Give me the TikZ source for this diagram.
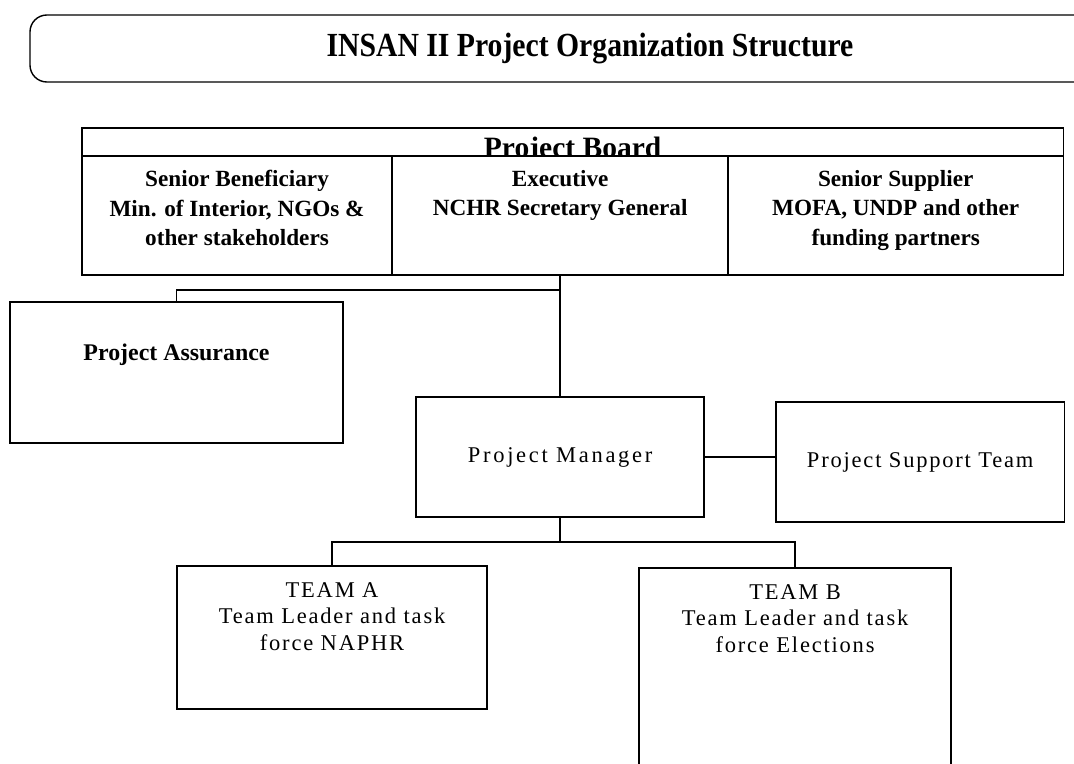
\documentclass[tikz,border=0pt]{standalone}
\usepackage{fontspec}
\setmainfont{Liberation Serif}
\newfontfamily\wideserif[LetterSpace=8]{Liberation Serif}
\usetikzlibrary{positioning,calc}

\begin{document}
\begin{tikzpicture}[
  x=0.025cm, y=-0.025cm,
  box/.style={draw, line width=1pt, inner sep=0pt, outer sep=0pt},
  cell/.style={box, minimum height=2.975cm},
  celltxt/.style={align=center, inner sep=0pt, font=\fontsize{16.5}{21}\selectfont\bfseries},
  lowtxt/.style={align=center, inner sep=0pt, font=\wideserif\fontsize{16}{19}\selectfont},
  link/.style={line width=1pt}
]
  \useasboundingbox (0,0) rectangle (1074,764);
  \clip (0,0) rectangle (1074,764);

  % title banner, open to the right
  \draw[link, rounded corners=12pt] (1090,15) -| (30,82) -- (1090,82);
  \node[inner sep=0pt, font=\fontsize{24}{28}\selectfont\bfseries] (title) at (590,49)
    {\scalebox{0.88}[1]{INSAN II Project Organization Structure}};

  % project board
  \node[cell, minimum width=7.75cm, anchor=north west] (sb) at (82,156) {};
  \node[cell, minimum width=8.4cm, right=0pt of sb] (ex) {};
  \node[cell, minimum width=8.375cm, right=0pt of ex] (ss) {};
  \node[box, minimum width=24.525cm, minimum height=0.7cm, anchor=south west] (board) at (sb.north west) {};
  \begin{scope}
    \clip (board.south west) rectangle (board.north east);
    \node[inner sep=0pt, anchor=base, font=\fontsize{21}{24}\selectfont\bfseries] (boardtxt) at ($(board.south)+(0,1)$) {Project Board};
  \end{scope}
  \node[celltxt, below=0.35cm of sb.north] (sbtxt) {Senior Beneficiary\\Min. of Interior, NGOs \&\\other stakeholders};
  \node[celltxt, below=0.35cm of ex.north] (extxt) {Executive\\NCHR Secretary General};
  \node[celltxt, below=0.35cm of ss.north] (sstxt) {Senior Supplier\\MOFA, UNDP and other\\funding partners};

  % assurance, manager, support
  \node[box, minimum width=8.325cm, minimum height=3.525cm, anchor=north west] (pa) at (10,302) {};
  \node[inner sep=0pt, below=1.05cm of pa.north, font=\fontsize{17}{20}\selectfont\bfseries] (patxt) {Project Assurance};
  \node[box, lowtxt, minimum width=7.2cm, minimum height=3cm, below=3.05cm of ex] (pm) {\addfontfeatures{LetterSpace=12}Project Manager};
  \node[box, lowtxt, minimum width=7.2cm, minimum height=3cm, right=1.8cm of pm, yshift=-0.125cm] (pst) {Project Support Team};

  % teams
  \node[box, minimum width=7.75cm, minimum height=3.575cm, anchor=north west] (teama) at (177,566) {};
  \node[lowtxt, below=0.4cm of teama.north] (teamatxt) {TEAM A\\Team Leader and task\\force NAPHR};
  \node[box, minimum width=7.8cm, minimum height=6cm, anchor=north west] (teamb) at (639,568) {};
  \node[lowtxt, below=0.4cm of teamb.north] (teambtxt) {TEAM B\\Team Leader and task\\force Elections};

  % connectors
  \coordinate (pajoin) at ($(ex.south)+(0,15)$);
  \coordinate (teamjoin) at ($(pm.south)+(0,25)$);
  \draw[link] (ex.south) -- (pm.north);
  \draw[link] (pajoin) -| (pa.north);
  \draw[link] (pm.east) -- (pm.east -| pst.west);
  \draw[link] (pm.south) -- (teamjoin);
  \draw[link] (teamjoin) -| (teama.north);
  \draw[link] (teamjoin) -| (teamb.north);
\end{tikzpicture}
\end{document}
